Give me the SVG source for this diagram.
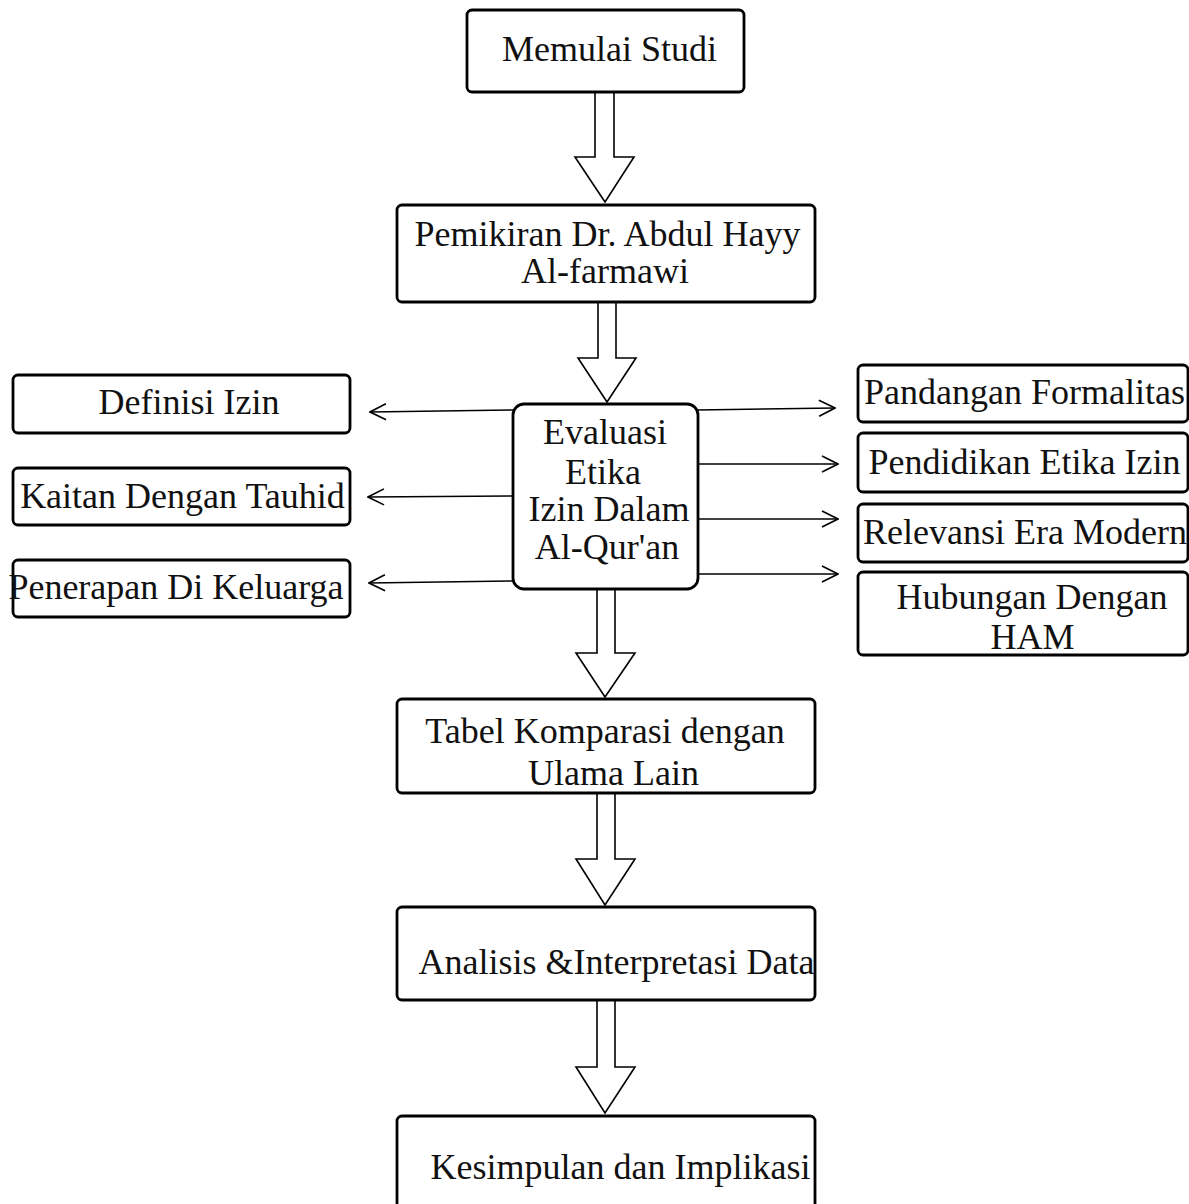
<svg xmlns="http://www.w3.org/2000/svg" width="1189" height="1204" viewBox="0 0 1189 1204">
<style>
  .box{fill:#fff;stroke:#000;stroke-width:2.8}
  .t{font-family:"Liberation Serif","Times New Roman",serif;font-size:36px;fill:#111;text-anchor:middle}
  .big{fill:#fff;stroke:#000;stroke-width:1.6;stroke-linejoin:miter}
  .ln{fill:none;stroke:#000;stroke-width:1.6}
</style>
<defs>
  <marker id="open" viewBox="0 0 18 18" refX="17" refY="9" markerWidth="18" markerHeight="18" markerUnits="userSpaceOnUse" orient="auto">
    <path d="M1,1 L17,9 L1,17" fill="none" stroke="#000" stroke-width="1.6"/>
  </marker>
</defs>
<rect width="1189" height="1204" fill="#fff"/>
<g id="connectors">
  <path class="big" d="M595,92 L595,157 L575,157 L605,202 L634,157 L614,157 L614,92"/>
  <path class="big" d="M598,302 L598,358 L578,358 L607,402 L636,358 L616,358 L616,302"/>
  <path class="big" d="M597,590 L597,653 L576,653 L605,697 L635,653 L615,653 L615,590"/>
  <path class="big" d="M597,793 L597,859 L576,859 L605,905 L635,859 L615,859 L615,793"/>
  <path class="big" d="M597,1000 L597,1067 L576,1067 L605,1113 L635,1067 L615,1067 L615,1000"/>
  <line class="ln" x1="513" y1="410" x2="370" y2="412" marker-end="url(#open)"/>
  <line class="ln" x1="513" y1="496" x2="368" y2="497" marker-end="url(#open)"/>
  <line class="ln" x1="513" y1="581" x2="369" y2="583" marker-end="url(#open)"/>
  <line class="ln" x1="697" y1="410" x2="835" y2="408" marker-end="url(#open)"/>
  <line class="ln" x1="697" y1="464" x2="838" y2="464" marker-end="url(#open)"/>
  <line class="ln" x1="697" y1="519" x2="838" y2="519" marker-end="url(#open)"/>
  <line class="ln" x1="697" y1="574" x2="838" y2="574" marker-end="url(#open)"/>
</g>
<g id="n-memulai">
  <rect class="box" x="467" y="10" width="277" height="82" rx="5"/>
  <text class="t" x="609.5" y="61">Memulai Studi</text>
</g>
<g id="n-pemikiran">
  <rect class="box" x="397" y="205" width="418" height="97" rx="5"/>
  <text class="t" x="607.5" y="246">Pemikiran Dr. Abdul Hayy</text>
  <text class="t" x="605" y="283">Al-farmawi</text>
</g>
<g id="n-evaluasi">
  <rect class="box" x="513" y="404" width="185" height="185" rx="11"/>
  <text class="t" x="605" y="444">Evaluasi</text>
  <text class="t" x="603" y="484">Etika</text>
  <text class="t" x="609" y="521">Izin Dalam</text>
  <text class="t" x="607" y="559">Al-Qur'an</text>
</g>
<g id="n-definisi">
  <rect class="box" x="13" y="375" width="337" height="58" rx="5"/>
  <text class="t" x="189" y="414">Definisi Izin</text>
</g>
<g id="n-kaitan">
  <rect class="box" x="13" y="468" width="337" height="57" rx="5"/>
  <text class="t" x="182.5" y="508">Kaitan Dengan Tauhid</text>
</g>
<g id="n-penerapan">
  <rect class="box" x="13" y="560" width="337" height="57" rx="5"/>
  <text class="t" x="176" y="599">Penerapan Di Keluarga</text>
</g>
<g id="n-pandangan">
  <rect class="box" x="858" y="365" width="330" height="57" rx="5"/>
  <text class="t" x="1024.5" y="404">Pandangan Formalitas</text>
</g>
<g id="n-pendidikan">
  <rect class="box" x="858" y="433" width="330" height="59" rx="5"/>
  <text class="t" x="1024.5" y="474">Pendidikan Etika Izin</text>
</g>
<g id="n-relevansi">
  <rect class="box" x="858" y="504" width="330" height="58" rx="5"/>
  <text class="t" x="1025" y="544">Relevansi Era Modern</text>
</g>
<g id="n-hubungan">
  <rect class="box" x="858" y="572" width="330" height="83" rx="5"/>
  <text class="t" x="1032" y="609">Hubungan Dengan</text>
  <text class="t" x="1032.5" y="649">HAM</text>
</g>
<g id="n-tabel">
  <rect class="box" x="397" y="699" width="418" height="94" rx="5"/>
  <text class="t" x="605" y="743">Tabel Komparasi dengan</text>
  <text class="t" x="613.5" y="785">Ulama Lain</text>
</g>
<g id="n-analisis">
  <rect class="box" x="397" y="907" width="418" height="93" rx="5"/>
  <text class="t" x="616.5" y="974">Analisis &amp;Interpretasi Data</text>
</g>
<g id="n-kesimpulan">
  <rect class="box" x="397" y="1116" width="418" height="110" rx="5"/>
  <text class="t" x="620.5" y="1179">Kesimpulan dan Implikasi</text>
</g>
</svg>
